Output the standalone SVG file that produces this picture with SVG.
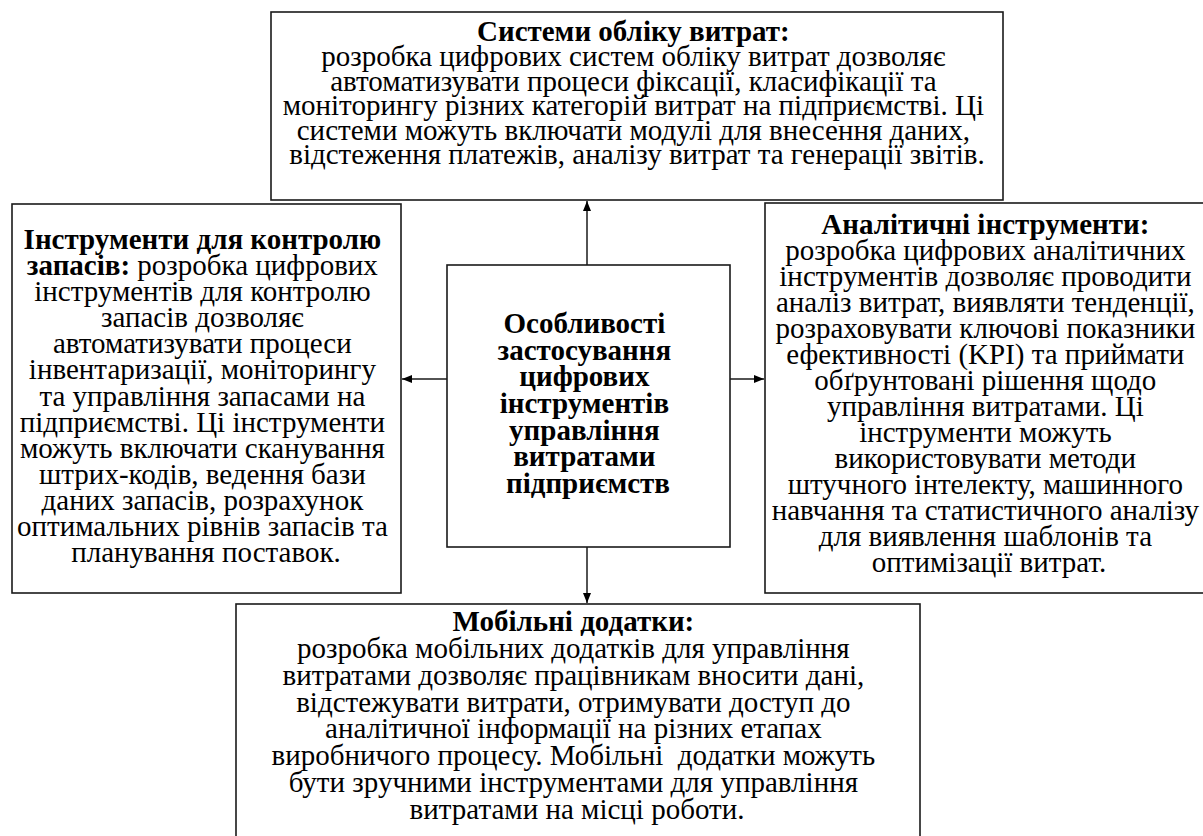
<svg xmlns="http://www.w3.org/2000/svg" width="1203" height="836" viewBox="0 0 1203 836">
<style>
.box{fill:#fff;stroke:#1a1a1a;stroke-width:1.6}
.t{font-size:29px;fill:#000;text-anchor:middle}
.b{font-weight:bold}
.conn{stroke:#1a1a1a;stroke-width:1.5;fill:none}
</style>
<defs>
<marker id="ah" viewBox="0 0 10 10" refX="10" refY="5" markerWidth="10" markerHeight="10" markerUnits="userSpaceOnUse" orient="auto">
<path d="M0,1 L10,5 L0,9 Z" fill="#000"/>
</marker>
</defs>
<rect width="1203" height="836" fill="#fff"/>

<g id="top">
<rect class="box" x="271" y="12" width="732" height="188"/>
<text class="t" font-family="Liberation Serif" x="637">
<tspan class="b" x="637" y="41">Системи обліку витрат:</tspan>
<tspan x="637" y="66">розробка цифрових систем обліку витрат дозволяє</tspan>
<tspan x="637" y="91">автоматизувати процеси фіксації, класифікації та</tspan>
<tspan x="637" y="115">моніторингу різних категорій витрат на підприємстві. Ці</tspan>
<tspan x="637" y="140">системи можуть включати модулі для внесення даних,</tspan>
<tspan x="637" y="164">відстеження платежів, аналізу витрат та генерації звітів.</tspan>
</text>
</g>

<g id="left">
<rect class="box" x="12" y="204" width="389" height="389"/>
<text class="t" font-family="Liberation Serif" x="206">
<tspan class="b" x="206" y="249">Інструменти для контролю</tspan>
<tspan x="206" y="275"><tspan class="b">запасів:</tspan> розробка цифрових</tspan>
<tspan x="206" y="301">інструментів для контролю</tspan>
<tspan x="206" y="327">запасів дозволяє</tspan>
<tspan x="206" y="353">автоматизувати процеси</tspan>
<tspan x="206" y="379">інвентаризації, моніторингу</tspan>
<tspan x="206" y="406">та управління запасами на</tspan>
<tspan x="206" y="432">підприємстві. Ці інструменти</tspan>
<tspan x="206" y="458">можуть включати сканування</tspan>
<tspan x="206" y="484">штрих-кодів, ведення бази</tspan>
<tspan x="206" y="510">даних запасів, розрахунок</tspan>
<tspan x="206" y="536">оптимальних рівнів запасів та</tspan>
<tspan x="206" y="562">планування поставок.</tspan>
</text>
</g>

<g id="center">
<rect class="box" x="447" y="265" width="283" height="282"/>
<text class="t b" font-family="Liberation Serif" x="588">
<tspan x="588" y="333">Особливості</tspan>
<tspan x="588" y="360">застосування</tspan>
<tspan x="588" y="386">цифрових</tspan>
<tspan x="588" y="413">інструментів</tspan>
<tspan x="588" y="440">управління</tspan>
<tspan x="588" y="466">витратами</tspan>
<tspan x="588" y="493">підприємств</tspan>
</text>
</g>

<g id="right">
<rect class="box" x="765" y="203" width="450" height="390"/>
<text class="t" font-family="Liberation Serif" x="989">
<tspan class="b" x="989" y="234">Аналітичні інструменти:</tspan>
<tspan x="989" y="260">розробка цифрових аналітичних</tspan>
<tspan x="989" y="286">інструментів дозволяє проводити</tspan>
<tspan x="989" y="312">аналіз витрат, виявляти тенденції,</tspan>
<tspan x="989" y="338">розраховувати ключові показники</tspan>
<tspan x="989" y="364">ефективності (KPI) та приймати</tspan>
<tspan x="989" y="390">обґрунтовані рішення щодо</tspan>
<tspan x="989" y="416">управління витратами. Ці</tspan>
<tspan x="989" y="442">інструменти можуть</tspan>
<tspan x="989" y="468">використовувати методи</tspan>
<tspan x="989" y="494">штучного інтелекту, машинного</tspan>
<tspan x="989" y="520">навчання та статистичного аналізу</tspan>
<tspan x="989" y="546">для виявлення шаблонів та</tspan>
<tspan x="989" y="572">оптимізації витрат.</tspan>
</text>
</g>

<g id="bottom">
<rect class="box" x="236" y="604" width="684" height="240"/>
<text class="t" font-family="Liberation Serif" x="577">
<tspan class="b" x="577" y="631">Мобільні додатки:</tspan>
<tspan x="577" y="658">розробка мобільних додатків для управління</tspan>
<tspan x="577" y="685">витратами дозволяє працівникам вносити дані,</tspan>
<tspan x="577" y="712">відстежувати витрати, отримувати доступ до</tspan>
<tspan x="577" y="738">аналітичної інформації на різних етапах</tspan>
<tspan x="577" y="765">виробничого процесу. Мобільні&#160; додатки можуть</tspan>
<tspan x="577" y="792">бути зручними інструментами для управління</tspan>
<tspan x="577" y="819">витратами на місці роботи.</tspan>
</text>
</g>

<g id="connectors">
<line class="conn" x1="587" y1="265" x2="587" y2="201" marker-end="url(#ah)"/>
<line class="conn" x1="447" y1="379" x2="402" y2="379" marker-end="url(#ah)"/>
<line class="conn" x1="730" y1="379" x2="764" y2="379" marker-end="url(#ah)"/>
<line class="conn" x1="587" y1="547" x2="587" y2="603" marker-end="url(#ah)"/>
</g>
</svg>
